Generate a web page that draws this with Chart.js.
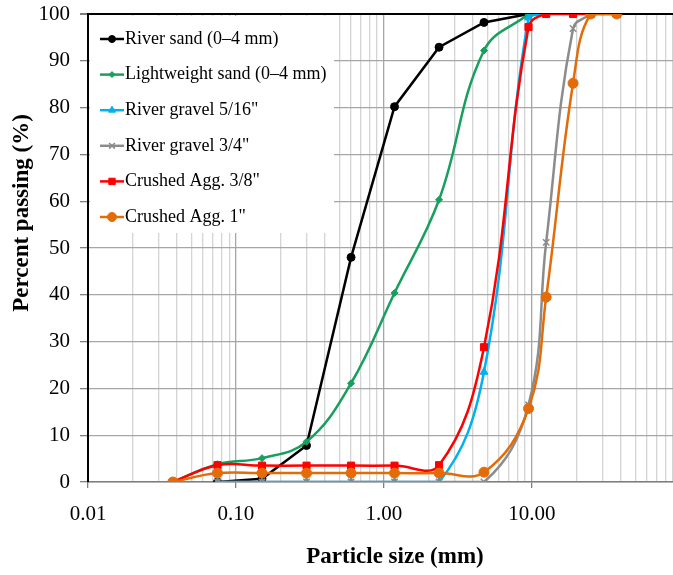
<!DOCTYPE html>
<html>
<head>
<meta charset="utf-8">
<script src="https://cdn.jsdelivr.net/npm/chart.js@4"></script>
<style>
  body { margin: 0; background: #fff; }
</style>
</head>
<body>
<canvas id="gradation" width="673" height="575"></canvas>
<script>
// sieve sizes (mm) and percent passing for each material
const sieveSizes = [0.0375, 0.075, 0.15, 0.3, 0.6, 1.18, 2.36, 4.75, 9.5, 12.5, 19, 25, 37.5];
const riverSand = [null, 0, 0.7, 7.8, 48, 80.2, 92.9, 98.2, 100, null, null, null, null];
const lightweightSand = [0, 3.8, 5.1, 8.6, 21.1, 40.4, 60.3, 92.2, 100, null, null, null, null];
const riverGravel516 = [null, 0, 0, 0, 0, 0, 0, 23.5, 99.2, 100, null, null, null];
const riverGravel34 = [null, 0, 0, 0, 0, 0, 0, 0, 16.5, 51.2, 96.9, 100, null];
const crushed38 = [0, 3.6, 3.5, 3.5, 3.5, 3.5, 3.6, 28.8, 97.2, 100, 100, 100, 100];
const crushed1 = [0, 1.9, 1.9, 1.9, 1.9, 1.9, 1.9, 2.1, 15.7, 39.5, 85.2, 100, 100];

const xDecades = [0.01, 0.1, 1, 10];
const xTickLabels = ['0.01', '0.10', '1.00', '10.00'];
const yTicks = [0, 10, 20, 30, 40, 50, 60, 70, 80, 90, 100];
const xTitle = 'Particle size (mm)';
const yTitle = 'Percent passing (%)';

function pts(arr) {
  return sieveSizes.map((x, i) => ({x: x, y: arr[i]})).filter(p => p.y !== null);
}

function series(label, arr, color, style, radius, tension, order) {
  return {
    label: label,
    data: pts(arr),
    borderColor: color,
    backgroundColor: color,
    pointBackgroundColor: color,
    pointBorderColor: color,
    pointStyle: style,
    pointRadius: radius,
    pointBorderWidth: style === 'crossRot' ? 1.5 : 1,
    borderWidth: 2.5,
    tension: tension,
    order: order
  };
}

const serif = '"Liberation Serif", "Times New Roman", serif';

// legend inside the plot (top-left, white box) and the two axis titles
const insideLegend = {
  id: 'insideLegend',
  afterDraw(chart) {
    const ctx = chart.ctx;
    const area = chart.chartArea;
    ctx.save();
    ctx.fillStyle = '#fff';
    ctx.fillRect(area.left + 2, area.top + 2, 244, 217);
    ctx.font = '18px ' + serif;
    ctx.textBaseline = 'middle';
    chart.data.datasets.forEach((ds, i) => {
      const y = area.top + 25 + i * 35.6;
      const x0 = area.left + 12;
      ctx.strokeStyle = ds.borderColor;
      ctx.fillStyle = ds.borderColor;
      ctx.lineWidth = 2.5;
      ctx.beginPath();
      ctx.moveTo(x0, y);
      ctx.lineTo(x0 + 24, y);
      ctx.stroke();
      ctx.lineWidth = ds.pointBorderWidth;
      Chart.helpers.drawPoint(ctx, {pointStyle: ds.pointStyle, radius: ds.pointRadius - 0.5, rotation: 0, borderWidth: ds.pointBorderWidth}, x0 + 12, y);
      ctx.fillStyle = '#000';
      ctx.fillText(ds.label, x0 + 25, y);
    });

    ctx.font = 'bold 23px ' + serif;
    ctx.fillStyle = '#000';
    ctx.textAlign = 'center';
    ctx.fillText(xTitle, 395, 557);
    ctx.translate(22, 213);
    ctx.rotate(-Math.PI / 2);
    ctx.fillText(yTitle, 0, 0);
    ctx.restore();
  }
};

new Chart('gradation', {
  type: 'line',
  data: {
    datasets: [
      series('River sand (0\u20134 mm)', riverSand, '#000000', 'circle', 4, 0, 6),
      series('Lightweight sand (0\u20134 mm)', lightweightSand, '#17a05d', 'rectRot', 3.5, 0.4, 5),
      series('River gravel 5/16"', riverGravel516, '#00b0f0', 'triangle', 4.5, 0.4, 4),
      series('River gravel 3/4"', riverGravel34, '#8c8c8c', 'crossRot', 4.5, 0.4, 3),
      series('Crushed Agg. 3/8"', crushed38, '#ff0000', 'rect', 5, 0.4, 2),
      series('Crushed Agg. 1"', crushed1, '#e36c09', 'circle', 5, 0.4, 1)
    ]
  },
  options: {
    responsive: false,
    devicePixelRatio: 1,
    animation: false,
    layout: {autoPadding: false, padding: {top: 14, right: 0, left: 0, bottom: 0}},
    plugins: {
      legend: {display: false},
      tooltip: {enabled: false}
    },
    scales: {
      x: {
        type: 'logarithmic',
        bounds: 'data',
        min: 0.01,
        max: 90,
        afterBuildTicks(scale) {
          const t = [];
          xDecades.forEach(d => {
            for (let k = 1; k <= 9; k++) t.push({value: +(d * k).toPrecision(3)});
          });
          scale.ticks = t;
        },
        afterFit(scale) {
          scale.height = 93;
          scale.paddingRight = 0;
        },
        ticks: {
          autoSkip: false,
          maxRotation: 0,
          padding: 14,
          color: '#000',
          font: {family: serif, size: 21},
          callback(value) {
            const i = xDecades.indexOf(value);
            return i >= 0 ? xTickLabels[i] : '';
          }
        },
        grid: {
          color(ctx) {
            const v = ctx.tick ? ctx.tick.value : 0;
            return xDecades.includes(v) ? '#a6a6a6' : '#d4d4d4';
          },
          tickColor(ctx) {
            const v = ctx.tick ? ctx.tick.value : 0;
            return xDecades.includes(v) ? '#7f7f7f' : 'rgba(0,0,0,0)';
          },
          tickLength: 6,
          lineWidth: 1.3
        },
        border: {color: '#7f7f7f', width: 1.5},
        title: {display: false}
      },
      y: {
        min: 0,
        max: 100,
        afterBuildTicks(scale) {
          scale.ticks = yTicks.map(v => ({value: v}));
        },
        afterFit(scale) {
          scale.width = 88;
          scale.paddingTop = 0;
          scale.paddingBottom = 0;
        },
        ticks: {
          padding: 10,
          color: '#000',
          font: {family: serif, size: 21}
        },
        grid: {
          color(ctx) {
            return ctx.tick && ctx.tick.value === 100 ? '#000' : '#a6a6a6';
          },
          tickColor: '#7f7f7f',
          tickLength: 8,
          lineWidth(ctx) {
            return ctx.tick && ctx.tick.value === 100 ? 2 : 1.3;
          }
        },
        border: {color: '#000', width: 2},
        title: {display: false}
      }
    }
  },
  plugins: [insideLegend]
});
</script>
</body>
</html>
